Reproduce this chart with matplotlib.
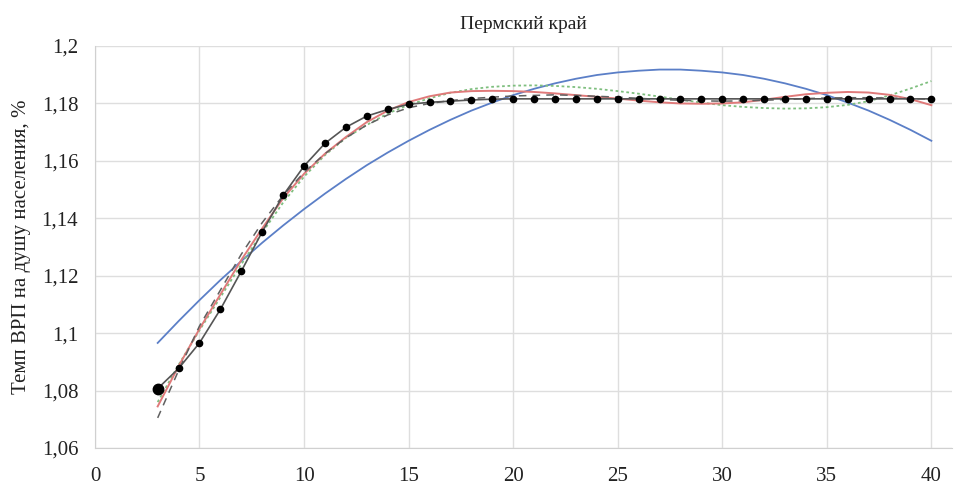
import numpy as np
import matplotlib
matplotlib.use("Agg")
import matplotlib.pyplot as plt

#______data_____________________________
x = list(range(3, 41))

# actual values (black line with dots)
actual = [1.0807, 1.0877, 1.0966, 1.1083, 1.1216, 1.1353, 1.1480, 1.1582, 1.1661, 1.1717,
          1.1756, 1.1779, 1.1797, 1.1804, 1.1808, 1.1812, 1.1815, 1.1816, 1.1816, 1.1816,
          1.1816, 1.1816, 1.1816, 1.1816, 1.1816, 1.1816, 1.1816, 1.1816, 1.1816, 1.1816,
          1.1816, 1.1816, 1.1816, 1.1816, 1.1816, 1.1816, 1.1816, 1.1816]

# trend 1: blue
trend_blue = [1.0966, 1.1042, 1.1115, 1.1185, 1.1251, 1.1315, 1.1375, 1.1432, 1.1486, 1.1537,
              1.1585, 1.1629, 1.1670, 1.1708, 1.1743, 1.1775, 1.1803, 1.1829, 1.1851, 1.1870,
              1.1886, 1.1899, 1.1908, 1.1914, 1.1918, 1.1918, 1.1914, 1.1908, 1.1899, 1.1886,
              1.1870, 1.1851, 1.1829, 1.1803, 1.1775, 1.1743, 1.1708, 1.1670]

# trend 2: red
trend_red = [1.0745, 1.0885, 1.1015, 1.1135, 1.1255, 1.1365, 1.1470, 1.1555, 1.1625, 1.1683,
             1.1735, 1.1775, 1.1805, 1.1825, 1.1838, 1.1843, 1.1844, 1.1843, 1.1840, 1.1835,
             1.1829, 1.1823, 1.1817, 1.1810, 1.1804, 1.1800, 1.1799, 1.1800, 1.1804, 1.1813,
             1.1823, 1.1832, 1.1837, 1.1840, 1.1838, 1.1830, 1.1815, 1.1794]

# trend 3: green dotted
trend_green = [1.0760, 1.0890, 1.1010, 1.1125, 1.1240, 1.1350, 1.1455, 1.1545, 1.1620, 1.1680,
               1.1725, 1.1765, 1.1795, 1.1818, 1.1837, 1.1850, 1.1858, 1.1862, 1.1863, 1.1861,
               1.1857, 1.1851, 1.1843, 1.1834, 1.1824, 1.1813, 1.1803, 1.1794, 1.1788, 1.1784,
               1.1782, 1.1783, 1.1787, 1.1795, 1.1808, 1.1828, 1.1852, 1.1878]

# trend 4: gray dashed
trend_dash = [1.0705, 1.0870, 1.1025, 1.1150, 1.1275, 1.1385, 1.1480, 1.1560, 1.1625, 1.1680,
              1.1725, 1.1760, 1.1785, 1.1800, 1.1810, 1.1817, 1.1822, 1.1826, 1.1828, 1.1830,
              1.1828, 1.1825, 1.1822, 1.1818, 1.1814, 1.1811, 1.1809, 1.1808, 1.1809, 1.1811,
              1.1814, 1.1817, 1.1819, 1.1820, 1.1820, 1.1819, 1.1817, 1.1815]

x_ticks = [0, 5, 10, 15, 20, 25, 30, 35, 40]
y_ticks = [1.06, 1.08, 1.10, 1.12, 1.14, 1.16, 1.18, 1.20]
y_labels = ["1,06", "1,08", "1,1", "1,12", "1,14", "1,16", "1,18", "1,2"]

#______plotting__________
plt.rcParams["font.family"] = ["Liberation Serif", "DejaVu Serif"]

fig = plt.figure(figsize=(9.59, 4.87), dpi=100)
ax = fig.add_axes([0.099, 0.080, 0.894, 0.8255])

ax.plot(x, trend_blue, color="#5b7fc7", lw=1.3)
ax.plot(x, trend_green, color="#7fbf7f", lw=1.3, ls=(0, (1.5, 1.5)))
ax.plot(x, trend_red, color="#e07a7a", lw=1.4)
ax.plot(x, trend_dash, color="#606060", lw=1.1, ls=(0, (5, 4)))
ax.plot(x, actual, color="#555555", lw=1.2, marker="o", ms=4.5,
        mfc="black", mec="black")
ax.plot(x[0], actual[0], "o", color="black", ms=7.5)  # first point drawn bigger

ax.set_xlim(0, 41)
ax.set_ylim(1.06, 1.2)
ax.set_xticks(x_ticks)
ax.set_yticks(y_ticks)
ax.set_yticklabels(y_labels)
ax.tick_params(axis="both", length=0, labelsize=15, colors="#222222")
ax.tick_params(axis="y", pad=12)
ax.tick_params(axis="x", pad=14)

ax.grid(True, color="#dedede", lw=1)
ax.set_axisbelow(True)
for s in ["top", "right"]:
    ax.spines[s].set_visible(False)
for s in ["left", "bottom"]:
    ax.spines[s].set_color("#d0d0d0")

ax.set_title("Пермский край", fontsize=14, pad=12, color="#222222")
ax.set_ylabel("Темп ВРП на душу населения, %", fontsize=15, color="#222222", labelpad=8)

plt.savefig("out.png", dpi=100)
